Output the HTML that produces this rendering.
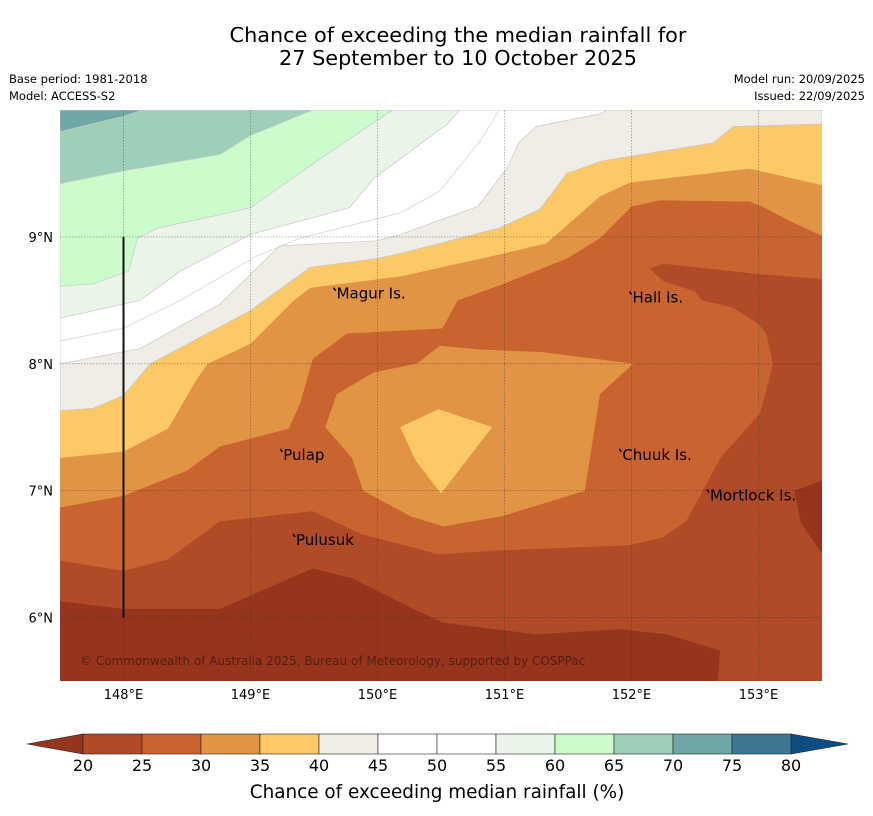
<!DOCTYPE html>
<html><head><meta charset="utf-8"><style>
html,body{margin:0;padding:0;background:#fff;}
svg{display:block;font-family:"DejaVu Sans","Liberation Sans",sans-serif;}
</style></head><body>
<svg id="chart" width="873" height="816" viewBox="0 0 873 816" xmlns="http://www.w3.org/2000/svg">
<text x="458" y="42" font-size="20.8" text-anchor="middle" fill="#000">Chance of exceeding the median rainfall for</text>
<text x="458" y="65" font-size="20.8" text-anchor="middle" fill="#000">27 September to 10 October 2025</text>
<text x="9" y="83" font-size="11.5" fill="#000">Base period: 1981-2018</text>
<text x="9" y="100" font-size="11.5" fill="#000">Model: ACCESS-S2</text>
<text x="865" y="83" font-size="11.5" text-anchor="end" fill="#000">Model run: 20/09/2025</text>
<text x="865" y="100" font-size="11.5" text-anchor="end" fill="#000">Issued: 22/09/2025</text>
<defs><clipPath id="mapclip"><rect x="60" y="110" width="762" height="571"/></clipPath></defs>
<g id="map" clip-path="url(#mapclip)"></g>
<g id="overlay"></g>
<g id="cbar"></g>
<text x="437" y="798" font-size="18.4" text-anchor="middle" fill="#000">Chance of exceeding median rainfall (%)</text>
</svg>
<script>
// ---- data ----
const lonRange = [147.5, 153.5];
const latRange = [5.5, 10.0];
const lonTicks = [148, 149, 150, 151, 152, 153];
const latTicks = [6, 7, 8, 9];
const cbarLevels = [20, 25, 30, 35, 40, 45, 50, 55, 60, 65, 70, 75, 80];
const cbarColors = ["#b04a27","#c9632f","#e09444","#fdc967","#f0ece6","#ffffff","#ffffff","#eaf4e9","#ccfccb","#9dcfb9","#6fa6a6","#3f7694"];
const underColor = "#96341e";
const overColor = "#0e4c84";
// contour layers (lon, lat)
const layer20 = [[147.5,10],[153.5,10],[153.5,7.08],[153.28,7.0],[153.33,6.75],[153.5,6.50],[153.5,5.5],[152.68,5.5],[152.70,5.74],[152.28,5.87],[151.90,5.91],[151.25,5.87],[150.52,5.96],[150.26,6.08],[149.80,6.31],[149.49,6.39],[148.76,6.07],[148.0,6.07],[147.5,6.13]];
const layer25 = [[147.5,10],[153.5,10],[153.5,8.67],[152.99,8.71],[152.25,8.79],[152.14,8.75],[152.25,8.65],[152.50,8.57],[152.55,8.50],[152.80,8.44],[152.99,8.32],[153.06,8.24],[153.11,8.0],[153.08,7.87],[153.01,7.61],[152.70,7.26],[152.43,6.76],[152.24,6.63],[151.97,6.57],[150.94,6.53],[150.48,6.50],[149.87,6.66],[149.49,6.84],[148.76,6.76],[148.35,6.46],[148.0,6.37],[147.5,6.45]];
const layer30 = [[147.5,10],[153.5,10],[153.5,9.01],[153.24,9.13],[153.03,9.24],[152.93,9.28],[152.22,9.29],[152.0,9.24],[151.75,8.99],[151.49,8.83],[150.99,8.63],[150.63,8.50],[150.51,8.28],[149.76,8.24],[149.49,8.04],[149.39,7.69],[149.30,7.49],[148.76,7.35],[148.50,7.16],[148.0,6.96],[147.5,6.87]];
const layer30blob = [[150.49,8.14],[150.81,8.11],[151.30,8.09],[152.01,8.0],[151.75,7.76],[151.63,7.0],[150.98,6.80],[150.52,6.72],[150.26,6.80],[149.89,7.0],[149.80,7.26],[149.59,7.50],[149.68,7.76],[149.97,7.93],[150.31,8.0]];
const layer35 = [[147.5,10],[153.5,10],[153.5,9.41],[152.93,9.54],[151.99,9.43],[151.75,9.32],[151.33,8.95],[150.99,8.87],[150.18,8.69],[149.47,8.60],[149.34,8.50],[149.0,8.16],[148.66,8.0],[148.57,7.87],[148.35,7.49],[148.0,7.31],[147.5,7.26]];
const layer35blob = [[150.18,7.50],[150.48,7.64],[150.90,7.50],[150.50,6.98],[150.30,7.24]];
const layer40 = [[147.5,10],[153.5,10],[153.5,9.89],[152.80,9.87],[152.64,9.74],[151.77,9.60],[151.49,9.50],[151.28,9.22],[150.96,9.07],[150.18,8.87],[150.0,8.83],[149.47,8.76],[149.0,8.42],[148.21,8.0],[148.0,7.75],[147.76,7.65],[147.5,7.63]];
const layer45 = [[147.5,10],[151.81,10],[151.75,9.97],[151.25,9.87],[151.11,9.74],[151.02,9.54],[150.79,9.24],[150.18,9.02],[150.0,8.97],[149.23,8.93],[148.76,8.47],[148.13,8.12],[147.5,8.0]];
const line50 = [[147.5,8.18],[148.0,8.28],[148.45,8.50],[149.05,8.85],[149.39,8.99],[150.18,9.19],[150.49,9.36],[150.81,9.76],[150.96,10.0]];
const layer55 = [[147.5,10],[150.65,10],[150.55,9.89],[149.97,9.46],[149.78,9.23],[149.0,9.02],[148.45,8.73],[148.13,8.50],[147.5,8.36]];
const layer60 = [[147.5,10],[150.12,10],[149.73,9.74],[149.47,9.56],[149.0,9.23],[148.74,9.17],[148.27,9.07],[148.11,8.99],[148.04,8.73],[147.76,8.63],[147.5,8.61]];
const layer65 = [[147.5,10],[149.49,10],[149.0,9.80],[148.76,9.65],[148.0,9.52],[147.5,9.42]];
const layer70 = [[147.5,10],[148.15,10],[148.0,9.95],[147.5,9.83]];
const islandNames = ["Magur Is.","Hall Is.","Pulap","Chuuk Is.","Mortlock Is.","Pulusuk"];
const islandLon = [149.67, 152.0, 149.25, 151.92, 152.61, 149.35];
const islandLat = [8.56, 8.53, 7.29, 7.29, 6.97, 6.62];
const transect = [[148.0, 9.0],[148.0, 6.0]];

// ---- axes ----
const X0=60, X1=822, Y0=110, Y1=681;
const xs = lon => X0 + (lon-lonRange[0])/(lonRange[1]-lonRange[0])*(X1-X0);
const ys = lat => Y1 - (lat-latRange[0])/(latRange[1]-latRange[0])*(Y1-Y0);
const NS="http://www.w3.org/2000/svg";
function mk(tag, attrs, parent){const e=document.createElementNS(NS,tag);for(const k in attrs)e.setAttribute(k,attrs[k]);parent.appendChild(e);return e;}
const pts = poly => poly.map(p=>xs(p[0]).toFixed(1)+","+ys(p[1]).toFixed(1)).join(" ");
const map=document.getElementById('map'), ov=document.getElementById('overlay'), cb=document.getElementById('cbar');

const bg = mk('rect',{x:X0,y:Y0,width:X1-X0,height:Y1-Y0,fill:underColor},map);


const layers=[[layer20,0,'band-20-25'],[layer25,1,'band-25-30'],[layer30,2,'band-30-35'],[layer30blob,2,'band-30-35-inner'],[layer35,3,'band-35-40'],[layer35blob,3,'band-35-40-inner'],[layer40,4,'band-40-45'],[layer45,5,'band-45-55'],[layer55,7,'band-55-60'],[layer60,8,'band-60-65'],[layer65,9,'band-65-70'],[layer70,10,'band-70-75']];
layers.forEach(([poly,ci,name])=>{
  const light = ci>=4;
  const p=mk('polygon',{points:pts(poly),fill:cbarColors[ci],stroke:light?'#c8c8c8':cbarColors[ci],'stroke-width':light?0.7:0.5},map);
  
  
});
const l50=mk('polyline',{points:pts(line50),fill:'none',stroke:'#cfcfcf','stroke-width':0.7},map);



lonTicks.forEach(lon=>{
  const g=mk('line',{x1:xs(lon),x2:xs(lon),y1:Y0,y2:Y1,stroke:'#333','stroke-width':0.6,'stroke-dasharray':'1.5,1.5','stroke-opacity':0.6},ov);
  
  
  const t=mk('text',{x:xs(lon),y:699,'font-size':13,'text-anchor':'middle',fill:'#000'},ov);
  t.textContent=lon+'°E';
  
  
});
latTicks.forEach(lat=>{
  const g=mk('line',{x1:X0,x2:X1,y1:ys(lat),y2:ys(lat),stroke:'#333','stroke-width':0.6,'stroke-dasharray':'1.5,1.5','stroke-opacity':0.6},ov);
  
  
  const t=mk('text',{x:53,y:ys(lat)+5,'font-size':13,'text-anchor':'end',fill:'#000'},ov);
  t.textContent=lat+'°N';
  
  
});
const tl=mk('line',{x1:xs(transect[0][0]),x2:xs(transect[1][0]),y1:ys(transect[0][1]),y2:ys(transect[1][1]),stroke:'#111','stroke-width':2},ov);



islandNames.forEach((n,i)=>{
  const x=xs(islandLon[i]), y=ys(islandLat[i]);
  const m=mk('path',{d:`M${x-2},${y-5} l2,3`,stroke:'#000','stroke-width':1.5,fill:'none'},ov);
  
  
  const t=mk('text',{x:x+1,y:y+6,'font-size':15,fill:'#000'},ov);
  t.textContent=n;
  
  
});
const cp=mk('text',{x:80,y:665,'font-size':12,fill:'#4a1a0e','fill-opacity':0.85},ov);
cp.textContent='© Commonwealth of Australia 2025, Bureau of Meteorology, supported by COSPPac';



const CB0=83, CB1=791, CBY=734, CBH=20;
const cx = v => CB0 + (v-cbarLevels[0])/(cbarLevels[cbarLevels.length-1]-cbarLevels[0])*(CB1-CB0);
const lt=mk('polygon',{points:`${CB0},${CBY} ${CB0},${CBY+CBH} 27,${CBY+CBH/2}`,fill:underColor,stroke:'#222','stroke-width':0.6},cb);


const rt=mk('polygon',{points:`${CB1},${CBY} ${CB1},${CBY+CBH} 848,${CBY+CBH/2}`,fill:overColor,stroke:'#222','stroke-width':0.6},cb);


cbarColors.forEach((c,i)=>{
  const r=mk('rect',{x:cx(cbarLevels[i]),y:CBY,width:cx(cbarLevels[i+1])-cx(cbarLevels[i]),height:CBH,fill:c,stroke:'#222','stroke-width':0.6},cb);
  
  
});
cbarLevels.forEach(v=>{
  const t=mk('text',{x:cx(v),y:771,'font-size':16,'text-anchor':'middle',fill:'#000'},cb);
  t.textContent=v;
  
  
});
</script>
</body></html>
